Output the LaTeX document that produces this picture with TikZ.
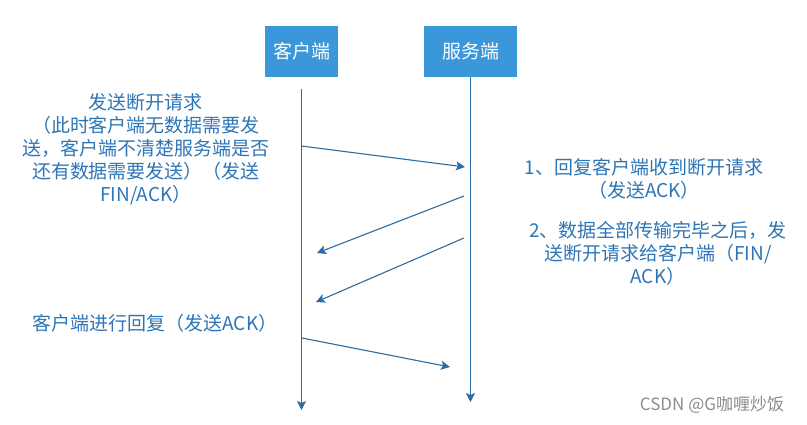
\documentclass[tikz,border=0pt]{standalone}
\usepackage{fontspec}
\setmainfont{Noto Sans CJK SC}
\usetikzlibrary{arrows.meta}
\definecolor{boxblue}{RGB}{58,151,218}
\definecolor{lineblue}{RGB}{43,108,163}
\definecolor{textblue}{RGB}{46,117,182}
\begin{document}
\begin{tikzpicture}[x=1pt, y=-1pt, >={Stealth[length=9pt, width=9pt, inset=2pt]},
		every node/.style={font=\fontsize{19}{23}\selectfont, text=textblue, align=center},
		box/.style={fill=boxblue, text=white, minimum height=51pt, inner sep=0pt},
		msg/.style={->, draw=lineblue, line width=1.1pt}]
		\useasboundingbox (0,0) rectangle (807,424);

		\node[box, minimum width=73pt] (C) at (301.5,51.5) {客户端};
		\node[box, minimum width=93pt] (S) at (470.5,51.5) {服务端};

		% lifelines
		\coordinate (Ctop) at (301.5,89);
		\coordinate (Cend) at (301.5,410);
		\coordinate (Send) at (470.5,402);
		\draw[msg] (Ctop) -- (Cend);
		\draw[msg] (S.south) -- (Send);

		% messages
		\coordinate (C1) at (301.5,146);  \coordinate (S1) at (465,167);
		\coordinate (S2) at (464,196);    \coordinate (C2) at (317,253);
		\coordinate (S3) at (464,238);    \coordinate (C3) at (316,302);
		\coordinate (C4) at (302,338);    \coordinate (S4) at (450,367);
		\draw[msg] (C1) -- (S1);
		\draw[msg] (S2) -- (C2);
		\draw[msg] (S3) -- (C3);
		\draw[msg] (C4) -- (S4);

		\node (T1) at (146,149) {发送断开请求\\（此时客户端无数据需要发\\送，客户端不清楚服务端是否\\还有数据需要发送）（发送\\FIN/ACK）};
		\node (T2) at (644,178.5) {1、回复客户端收到断开请求\\（发送ACK）};
		\node (T3) at (658,253) {2、数据全部传输完毕之后，发\\送断开请求给客户端（FIN/\\ACK）};
		\node (T4) at (155,323) {客户端进行回复（发送ACK）};
		\node[font=\fontsize{17}{19}\selectfont, text=black!45] (W) at (712,405) {CSDN @G咖喱炒饭};
	\end{tikzpicture}
\end{document}
